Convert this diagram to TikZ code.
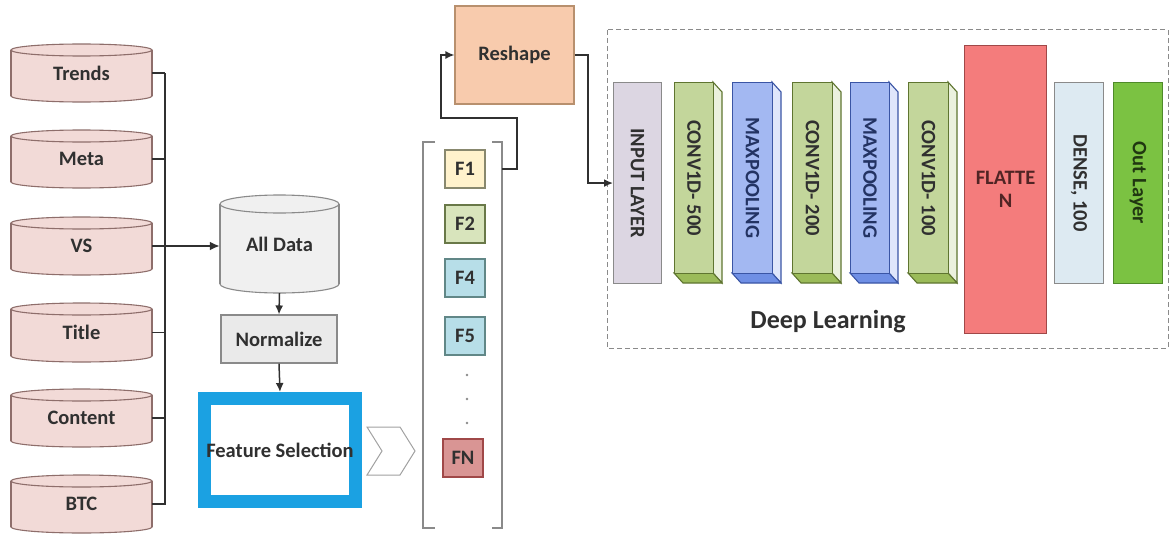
\documentclass[tikz,border=0pt]{standalone}
\usepackage{fontspec}
\setmainfont{Carlito}
\usetikzlibrary{arrows.meta}

% colours
\definecolor{cylfill}{HTML}{F2DAD7}
\definecolor{cyldraw}{HTML}{8E6E6B}
\definecolor{grayfill}{HTML}{F0F0F0}
\definecolor{normfill}{HTML}{EAEAEA}
\definecolor{graydraw}{HTML}{8A8A8A}
\definecolor{fsblue}{HTML}{1BA1E2}
\definecolor{reshfill}{HTML}{F8CBAD}
\definecolor{reshdraw}{HTML}{B8906E}
\definecolor{fyellow}{HTML}{FFF2CC}
\definecolor{fgreen}{HTML}{D8E4BC}
\definecolor{fblue}{HTML}{B7DEE8}
\definecolor{fred}{HTML}{D99594}
\definecolor{inputfill}{HTML}{DCD6E2}
\definecolor{convfront}{HTML}{C3D69B}
\definecolor{convside}{HTML}{EBF1DE}
\definecolor{convbot}{HTML}{9BBB59}
\definecolor{convdraw}{HTML}{5F7530}
\definecolor{poolfront}{HTML}{A3B8F2}
\definecolor{poolside}{HTML}{DFE6FB}
\definecolor{poolbot}{HTML}{6F8FE5}
\definecolor{pooldraw}{HTML}{3A55A5}
\definecolor{flatfill}{HTML}{F47C7C}
\definecolor{flatdraw}{HTML}{A04848}
\definecolor{densefill}{HTML}{DDEAF2}
\definecolor{outfill}{HTML}{7BC242}
\definecolor{outdraw}{HTML}{4F8A2A}
\definecolor{ink}{HTML}{303030}

\tikzset{
  lbl/.style={font=\fontsize{20.5}{23}\selectfont\bfseries, text=ink},
  cylline/.style={line width=1.1pt},
  lay/.style={line width=1.1pt},
  conn/.style={draw=ink, line width=1.5pt},
  tip/.style={-{Latex[length=9pt,width=8pt]}},
  fbox/.style={lbl, minimum width=40, minimum height=38, inner sep=0, line width=1.1pt},
  plainbox/.style={lbl, inner sep=0, line width=1.1pt},
}

% database cylinder: name, x0, top, x1, bottom, fill, draw, text
\newcommand\cry{6}
\newcommand\dbcyl[8]{%
  \filldraw[fill=#6,draw=#7,cylline] ({(#2+#4)/2},{#5-\cry}) ellipse [x radius={(#4-#2)/2}, y radius=\cry];
  \fill[#6] (#2,{#3+\cry}) rectangle (#4,{#5-\cry});
  \draw[#7,cylline] (#2,{#3+\cry}) -- (#2,{#5-\cry}) (#4,{#3+\cry}) -- (#4,{#5-\cry});
  \filldraw[fill=#6,draw=#7,cylline] ({(#2+#4)/2},{#3+\cry}) ellipse [x radius={(#4-#2)/2}, y radius=\cry];
  \node[lbl, inner sep=0, minimum width={#4-#2}, minimum height={#5-#3}] (#1) at ({(#2+#4)/2},{(#3+#5)/2}) {#8};
}

% extruded layer block: name, x0, x1, front, side, bottom, draw, text, text colour
\newcommand\layerbox[9]{%
  \filldraw[fill=#5,draw=#7,lay] (#3,82) -- ({#3+9},92) -- ({#3+9},283) -- (#3,273) -- cycle;
  \filldraw[fill=#6,draw=#7,lay] (#2,273) -- (#3,273) -- ({#3+9},283) -- ({#2+9},283) -- cycle;
  \node[draw=#7, fill=#4, lay, minimum width={#3-#2}, minimum height=191, inner sep=0, anchor=north west] (#1) at (#2,82) {};
  \node[lbl, rotate=-90, text=#9] at (#1.center) {#8};
}

\begin{document}
\begin{tikzpicture}[x=1pt, y=-1pt]
\useasboundingbox (0,0) rectangle (1172,535);

% ---- data sources ----
\dbcyl{trends}{11}{44}{152}{102}{cylfill}{cyldraw}{Trends}
\dbcyl{meta}{11}{130}{152}{188}{cylfill}{cyldraw}{Meta}
\dbcyl{vs}{11}{217}{152}{275}{cylfill}{cyldraw}{VS}
\dbcyl{title}{11}{303}{152}{362}{cylfill}{cyldraw}{Title}
\dbcyl{content}{11}{389}{152}{447}{cylfill}{cyldraw}{Content}
\dbcyl{btc}{11}{475}{152}{533}{cylfill}{cyldraw}{BTC}

\renewcommand\cry{9}
\dbcyl{alldata}{220}{195}{339}{293}{grayfill}{graydraw}{All Data}

% collecting bus
\coordinate (bustop) at (165,73);
\coordinate (busbot) at (165,505);
\draw[conn] (bustop) -- (busbot);
\foreach \s in {trends,meta,title,content,btc}
  \draw[conn] (\s.east) -- (\s.east -| bustop);
\draw[conn, line width=2.8pt, -{Latex[length=10pt,width=9pt]}] (vs.east) -- (vs.east -| alldata.west);

% ---- preprocessing ----
\node[plainbox, draw=graydraw, fill=normfill, minimum width=116, minimum height=48] (norm) at (279,339) {Normalize};
\node[lbl, draw=fsblue, fill=white, line width=13pt, minimum width=151, minimum height=103, inner sep=0] (fs) at (280,450) {Feature Selection};

\draw[conn, tip] (alldata.south) -- (norm.north);
\draw[conn, tip] (norm.south) -- (fs.north);

% chevron
\draw[draw=graydraw!80, line width=1pt, fill=white]
  (367,427) -- (400,427) -- (415,451) -- (400,475) -- (367,475) -- (382,451) -- cycle;

% ---- feature vector ----
\node[minimum width=79, minimum height=386, inner sep=0] (fbrk) at (462.5,335) {};
\draw[graydraw, line width=1.4pt] (435,142) -- (423,142) -- (423,528) -- (435,528);
\draw[graydraw, line width=1.4pt] (492,142) -- (502,142) -- (502,528) -- (492,528);

\node[fbox, draw=graydraw!80!olive, fill=fyellow] (f1) at (465,169) {F1};
\node[fbox, draw=convdraw!70!gray, fill=fgreen] (f2) at (465,224) {F2};
\node[fbox, draw=graydraw!70!teal, fill=fblue] (f4) at (465,278) {F4};
\node[fbox, draw=graydraw!70!teal, fill=fblue] (f5) at (465,336) {F5};
\node[fbox, draw=flatdraw, fill=fred] (fn) at (463,458) {FN};
\foreach \y in {375,399,423}
  \fill[graydraw] (467,\y) circle [radius=1.3];

% ---- reshape ----
\node[plainbox, draw=reshdraw, fill=reshfill, minimum width=119, minimum height=98] (reshape) at (514.5,55) {Reshape};

\draw[conn, tip] (f1.east -| fbrk.east) -- (517,180 |- f1.east) -- (517,118) -- (441,118) |- (reshape.west);

% ---- deep learning block ----
\draw[graydraw, line width=1pt, dash pattern=on 5pt off 3pt] (607,30) rectangle (1168,348);

\node[plainbox, draw=graydraw, fill=inputfill, minimum width=48, minimum height=201, anchor=north west] (input) at (613,82) {};
\node[lbl, rotate=-90] at (input.center) {INPUT LAYER};

\layerbox{conva}{674}{713}{convfront}{convside}{convbot}{convdraw}{CONV1D- 500}{ink}
\layerbox{poola}{732}{772}{poolfront}{poolside}{poolbot}{pooldraw}{MAXPOOLING}{pooldraw!60!black}
\layerbox{convb}{792}{832}{convfront}{convside}{convbot}{convdraw}{CONV1D- 200}{ink}
\layerbox{poolb}{850}{889}{poolfront}{poolside}{poolbot}{pooldraw}{MAXPOOLING}{pooldraw!60!black}
\layerbox{convc}{908}{948}{convfront}{convside}{convbot}{convdraw}{CONV1D- 100}{ink}

\node[plainbox, draw=flatdraw, fill=flatfill, minimum width=82, minimum height=288, anchor=north west, align=center, text=flatdraw!50!black] (flat) at (964,45) {FLATTE\\N};

\node[plainbox, draw=graydraw, fill=densefill, minimum width=49, minimum height=201, anchor=north west] (dense) at (1054,82) {};
\node[lbl, rotate=-90] at (dense.center) {DENSE, 100};
\node[plainbox, draw=outdraw, fill=outfill, minimum width=49, minimum height=201, anchor=north west] (outl) at (1113,82) {};
\node[lbl, rotate=-90, text=outdraw!40!black] at (outl.center) {Out Layer};

\node[font=\fontsize{26}{28}\selectfont\bfseries, text=ink] (dltitle) at (828,322) {Deep Learning};

\draw[conn, tip] (reshape.east) -- (588,55) |- (input.west);

\end{tikzpicture}
\end{document}
